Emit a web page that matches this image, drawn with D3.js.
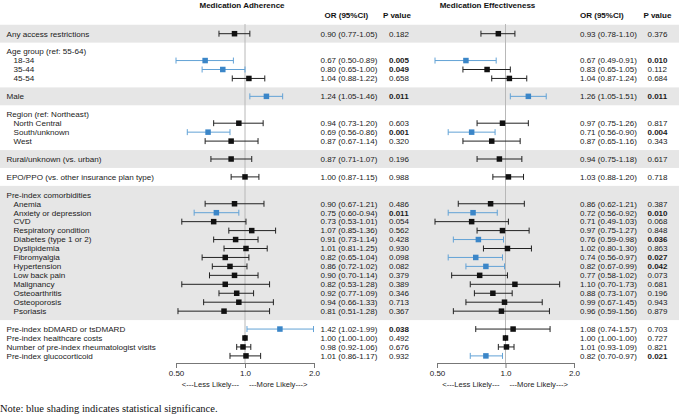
<!DOCTYPE html>
<html><head><meta charset="utf-8">
<script src="https://cdn.jsdelivr.net/npm/d3@7"></script>
<style>
body{margin:0;background:#fff;}
svg text{font-family:"Liberation Sans",Arial,sans-serif;}
</style></head>
<body><svg id="c" width="679" height="414"></svg>
<script>
// ---- data ----
const groups = [
  ["Any access restrictions"],
  ["Age group (ref: 55-64)", "18-34", "35-44", "45-54"],
  ["Male"],
  ["Region (ref: Northeast)", "North Central", "South/unknown", "West"],
  ["Rural/unknown (vs. urban)"],
  ["EPO/PPO (vs. other insurance plan type)"],
  ["Pre-index comorbidities", "Anemia", "Anxiety or depression", "CVD", "Respiratory condition",
   "Diabetes (type 1 or 2)", "Dyslipidemia", "Fibromyalgia", "Hypertension", "Low back pain",
   "Malignancy", "Osteoarthritis", "Osteoporosis", "Psoriasis"],
  ["Pre-index bDMARD or tsDMARD", "Pre-index healthcare costs", "Number of pre-index rheumatologist visits", "Pre-index glucocorticoid"]
];
const headerRows = ["Age group (ref: 55-64)", "Region (ref: Northeast)", "Pre-index comorbidities"];

// Medication adherence (null = header row)
const adhOR = [0.90, null, 0.67, 0.80, 1.04, 1.24, null, 0.94, 0.69, 0.87, 0.87, 1.00, null,
  0.90, 0.75, 0.73, 1.07, 0.91, 1.01, 0.82, 0.86, 0.90, 0.82, 0.92, 0.94, 0.81, 1.42, 1.00, 0.98, 1.01];
const adhLo = [0.77, null, 0.50, 0.65, 0.88, 1.05, null, 0.73, 0.56, 0.67, 0.71, 0.87, null,
  0.67, 0.60, 0.53, 0.85, 0.73, 0.81, 0.65, 0.72, 0.70, 0.53, 0.77, 0.66, 0.51, 1.02, 1.00, 0.92, 0.86];
const adhHi = [1.05, null, 0.89, 1.00, 1.22, 1.46, null, 1.20, 0.86, 1.14, 1.07, 1.15, null,
  1.21, 0.94, 1.01, 1.36, 1.14, 1.25, 1.04, 1.02, 1.14, 1.28, 1.09, 1.33, 1.28, 1.99, 1.00, 1.06, 1.17];
const adhP = ["0.182", null, "0.005", "0.049", "0.658", "0.011", null, "0.603", "0.001", "0.320", "0.196", "0.988", null,
  "0.486", "0.011", "0.054", "0.562", "0.428", "0.930", "0.098", "0.082", "0.379", "0.389", "0.346", "0.713", "0.367",
  "0.038", "0.492", "0.676", "0.932"];

// Medication effectiveness
const effOR = [0.93, null, 0.67, 0.83, 1.04, 1.26, null, 0.97, 0.71, 0.87, 0.94, 1.03, null,
  0.86, 0.72, 0.71, 0.97, 0.76, 1.02, 0.74, 0.82, 0.77, 1.10, 0.88, 0.99, 0.96, 1.08, 1.00, 1.01, 0.82];
const effLo = [0.78, null, 0.49, 0.65, 0.87, 1.05, null, 0.75, 0.56, 0.65, 0.75, 0.88, null,
  0.62, 0.56, 0.49, 0.75, 0.59, 0.80, 0.56, 0.67, 0.58, 0.70, 0.73, 0.67, 0.59, 0.74, 1.00, 0.93, 0.70];
const effHi = [1.10, null, 0.91, 1.05, 1.24, 1.51, null, 1.26, 0.90, 1.16, 1.18, 1.20, null,
  1.21, 0.92, 1.03, 1.27, 0.98, 1.30, 0.97, 0.99, 1.02, 1.73, 1.07, 1.45, 1.56, 1.57, 1.00, 1.09, 0.97];
const effP = ["0.376", null, "0.010", "0.112", "0.684", "0.011", null, "0.817", "0.004", "0.343", "0.617", "0.718", null,
  "0.387", "0.010", "0.068", "0.848", "0.036", "0.863", "0.027", "0.042", "0.073", "0.681", "0.196", "0.943", "0.879",
  "0.703", "0.727", "0.821", "0.021"];

const panelTitles = ["Medication Adherence", "Medication Effectiveness"];
const tickValues = [0.5, 1, 2];
const tickLabels = ["0.50", "1.0", "2.0"];
const colHeaders = ["OR (95%CI)", "P value"];
const note = "Note: blue shading indicates statistical significance.";

// ---- layout ----
const svg = d3.select("#c");
const W = 679;
const BLUE = "#3b86c8", BLUE_LINE = "#62a2d6", BLACK = "#111", BAND = "#e6e6e6";

const rows = [];
let slot = 0;
groups.forEach((g, gi) => {
  const hasHeader = headerRows.includes(g[0]);
  g.forEach((lab, j) => {
    rows.push({label: lab, slot: slot, group: gi, indent: hasHeader && j > 0, header: hasHeader && j === 0});
    slot++;
  });
  slot++; // gap
});
rows.forEach((r, i) => {
  r.adh = adhOR[i] == null ? null : {or: adhOR[i], lo: adhLo[i], hi: adhHi[i], p: adhP[i]};
  r.eff = effOR[i] == null ? null : {or: effOR[i], lo: effLo[i], hi: effHi[i], p: effP[i]};
});

const pitch = 8.95;
const y = d3.scaleLinear().domain([0, 1]).range([33.7, 33.7 + pitch]);

groups.forEach((g, gi) => {
  if (gi % 2 !== 0) return;
  const rs = rows.filter(r => r.group === gi);
  const y0 = y(rs[0].slot) - pitch, y1 = y(rs[rs.length - 1].slot) + pitch;
  svg.append("rect").attr("x", 0).attr("y", y0).attr("width", W).attr("height", y1 - y0).attr("fill", BAND);
});

svg.append("g").selectAll("text").data(rows).join("text")
  .attr("x", d => d.indent ? 13.5 : 6.5)
  .attr("y", d => y(d.slot)).attr("dy", "0.35em")
  .attr("font-size", 8.1).attr("fill", "#1a1a1a")
  .text(d => d.label);

const fmt = d3.format(".2f");
const panels = [
  {key: "adh", title: panelTitles[0], range: [176, 314], titleX: 242, orX: 320.5, orHX: 324.5, pX: 389, pHX: 383},
  {key: "eff", title: panelTitles[1], range: [437, 574], titleX: 487.5, orX: 580, orHX: 580, pX: 647.5, pHX: 643.5}
];
const axisY = 363;

panels.forEach(P => {
  const x = d3.scaleLog().domain([0.5, 2]).range(P.range);
  const g = svg.append("g");
  g.append("text").attr("x", P.titleX).attr("y", 5).attr("dy", "0.35em").attr("text-anchor", "middle")
    .attr("font-size", 8).attr("font-weight", "bold").attr("fill", "#111").text(P.title);
  g.append("text").attr("x", P.orHX).attr("y", 15.3).attr("dy", "0.35em")
    .attr("font-size", 8).attr("font-weight", "bold").attr("fill", "#111").text(colHeaders[0]);
  g.append("text").attr("x", P.pHX).attr("y", 15.3).attr("dy", "0.35em")
    .attr("font-size", 8).attr("font-weight", "bold").attr("fill", "#111").text(colHeaders[1]);
  g.append("line").attr("x1", x(1)).attr("x2", x(1)).attr("y1", 24).attr("y2", axisY)
    .attr("stroke", "#b8b8b8").attr("stroke-width", 1);
  const ax = g.append("g").attr("transform", `translate(0,${axisY})`)
    .call(d3.axisBottom(x).tickValues(tickValues).tickFormat((d, i) => tickLabels[i]).tickSize(5).tickSizeOuter(0));
  ax.select(".domain").attr("stroke", "#777");
  ax.selectAll(".tick line").attr("stroke", "#777");
  ax.selectAll(".tick text").attr("font-size", 8).attr("fill", "#222").attr("dy", "0.75em").attr("y", 7);
  g.append("text").attr("x", x(1) - 6).attr("y", 384.5).attr("dy", "0.35em").attr("text-anchor", "end")
    .attr("font-size", 7.6).attr("fill", "#222").text("<---Less Likely---");
  g.append("text").attr("x", x(1) + 4).attr("y", 384.5).attr("dy", "0.35em")
    .attr("font-size", 7.6).attr("fill", "#222").text("---More Likely--->");

  const dr = rows.filter(r => r[P.key]);
  const sig = d => +d[P.key].p < 0.05;
  const mk = g.append("g").selectAll("g").data(dr).join("g");
  mk.append("line").attr("x1", d => x(d[P.key].lo)).attr("x2", d => x(d[P.key].hi))
    .attr("y1", d => y(d.slot)).attr("y2", d => y(d.slot))
    .attr("stroke", d => sig(d) ? BLUE_LINE : "#222").attr("stroke-width", 1);
  ["lo", "hi"].forEach(k => {
    mk.append("line").attr("x1", d => x(d[P.key][k])).attr("x2", d => x(d[P.key][k]))
      .attr("y1", d => y(d.slot) - 3).attr("y2", d => y(d.slot) + 3)
      .attr("stroke", d => sig(d) ? BLUE_LINE : "#222").attr("stroke-width", 1);
  });
  mk.append("rect").attr("x", d => x(d[P.key].or) - 2.75).attr("y", d => y(d.slot) - 2.75)
    .attr("width", 5.5).attr("height", 5.5).attr("fill", d => sig(d) ? BLUE : BLACK);
  mk.append("text").attr("x", P.orX).attr("y", d => y(d.slot)).attr("dy", "0.35em")
    .attr("font-size", 8).attr("fill", "#1a1a1a")
    .text(d => `${fmt(d[P.key].or)} (${fmt(d[P.key].lo)}-${fmt(d[P.key].hi)})`);
  mk.append("text").attr("x", P.pX).attr("y", d => y(d.slot)).attr("dy", "0.35em")
    .attr("font-size", 8).attr("fill", "#1a1a1a").attr("font-weight", d => sig(d) ? "bold" : "normal")
    .text(d => d[P.key].p);
});

svg.append("text").attr("x", 0).attr("y", 408).attr("dy", "0.35em")
  .style("font-family", "'Liberation Serif','Times New Roman',serif").attr("font-size", 10.5).attr("fill", "#111")
  .text(note);
</script></body></html>
